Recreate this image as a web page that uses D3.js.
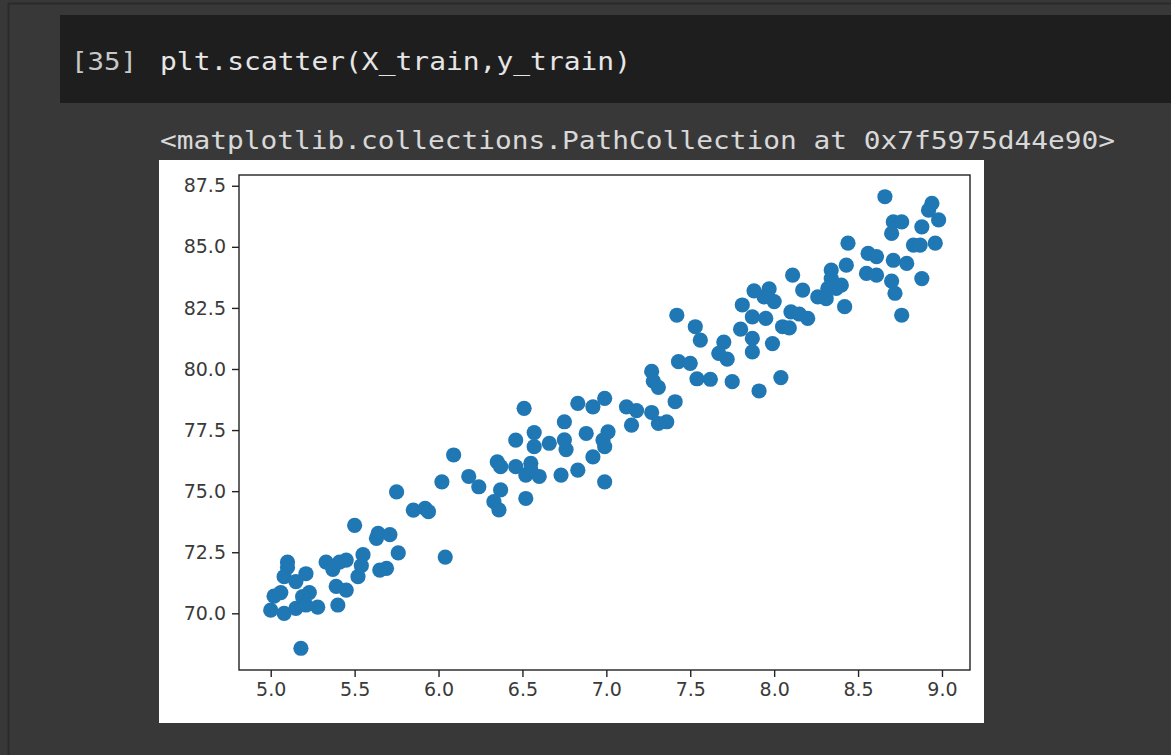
<!DOCTYPE html>
<html>
<head>
<meta charset="utf-8">
<title>plt.scatter(X_train,y_train)</title>
<script src="https://d3js.org/d3.v7.min.js"></script>
<style>
  html, body { margin: 0; padding: 0; background: #383838; }
  #vis { width: 1171px; height: 755px; }
</style>
</head>
<body>
<div id="vis"></div>
<script>

// values: X_train and y_train
let xTrain = [
  5.00, 5.08, 5.15, 5.02, 5.06, 5.10, 5.10, 5.08, 5.15, 5.21,
  5.23, 5.19, 5.28, 5.21, 5.18, 5.33, 5.37, 5.41, 5.45, 5.39,
  5.45, 5.40, 5.55, 5.54, 5.52, 5.50, 5.63, 5.64, 5.71, 5.76,
  5.65, 5.69, 5.75, 5.85, 5.92, 5.94, 6.04, 6.02, 6.09, 6.18,
  6.24, 6.35, 6.37, 6.37, 6.33, 6.36, 6.46, 6.52, 6.52, 6.55,
  6.55, 6.60, 6.73, 6.46, 6.57, 6.57, 6.66, 6.75, 6.76, 6.51,
  6.75, 6.83, 6.92, 6.99, 6.88, 7.01, 6.98, 6.99, 6.92, 6.83,
  6.99, 7.12, 7.18, 7.27, 7.41, 7.15, 7.31, 7.36, 7.27, 7.28,
  7.31, 7.43, 7.50, 7.54, 7.62, 7.75, 7.91, 8.04, 7.42, 7.53,
  7.56, 7.70, 7.67, 7.72, 7.81, 7.80, 7.87, 7.95, 7.87, 7.87,
  7.99, 7.88, 7.97, 7.94, 8.00, 8.11, 8.17, 8.10, 8.15, 8.20,
  8.05, 8.09, 8.34, 8.34, 8.40, 8.37, 8.32, 8.26, 8.31, 8.42,
  8.43, 8.44, 8.56, 8.61, 8.71, 8.79, 8.55, 8.61, 8.70, 8.72,
  8.88, 8.76, 8.66, 8.94, 8.92, 8.98, 8.71, 8.76, 8.70, 8.88,
  8.83, 8.87, 8.96
];
let yTrain = [
  70.13, 70.00, 70.20, 70.70, 70.85, 72.10, 71.88, 71.50, 71.30, 71.62,
  70.85, 70.68, 70.25, 70.34, 68.57, 72.10, 71.80, 72.10, 72.18, 71.10,
  70.95, 70.34, 72.40, 71.95, 71.50, 73.60, 73.07, 73.27, 73.22, 72.47,
  71.77, 71.84, 74.97, 74.22, 74.30, 74.16, 72.30, 75.38, 76.48, 75.60,
  75.18, 76.20, 76.00, 75.05, 74.57, 74.23, 76.00, 74.70, 75.66, 76.14,
  75.87, 75.60, 75.66, 77.09, 77.40, 76.82, 76.96, 77.10, 76.70, 78.39,
  77.84, 78.59, 78.45, 78.80, 77.36, 77.43, 77.09, 76.82, 76.40, 75.86,
  75.38, 78.45, 78.30, 78.22, 78.66, 77.70, 77.77, 77.84, 79.90, 79.50,
  79.25, 80.30, 80.23, 79.60, 79.58, 79.48, 79.10, 79.65, 82.20, 81.73,
  81.18, 81.10, 80.64, 80.40, 82.62, 81.63, 82.13, 82.07, 81.25, 80.70,
  81.04, 83.20, 83.28, 82.95, 82.76, 83.84, 83.23, 82.34, 82.25, 82.07,
  81.73, 81.68, 84.05, 83.70, 83.43, 83.30, 83.30, 82.95, 82.88, 82.55,
  84.25, 85.15, 84.73, 84.60, 84.45, 84.32, 83.91, 83.84, 83.60, 83.10,
  83.70, 82.20, 87.05, 86.78, 86.50, 86.10, 86.02, 86.02, 85.55, 85.82,
  85.07, 85.07, 85.15
];
let xTicks = [5.0, 5.5, 6.0, 6.5, 7.0, 7.5, 8.0, 8.5, 9.0];
let yTicks = [70.0, 72.5, 75.0, 77.5, 80.0, 82.5, 85.0, 87.5];

let cellPrompt = "[35]";
let cellCode = "plt.scatter(X_train,y_train)";
let cellOutput = "<matplotlib.collections.PathCollection at 0x7f5975d44e90>";

let W = 1171, H = 755;

let svg = d3.select('#vis').append("svg")
    .attr("width", W)
    .attr("height", H)
    .attr("viewBox", [0, 0, W, H]);

// notebook background + border
svg.append("rect")
    .attr("x", 0).attr("y", 0).attr("width", W).attr("height", H)
    .attr("fill", "#383838");
svg.append("rect")
    .attr("x", 8.5).attr("y", 3.5).attr("width", W).attr("height", H)
    .attr("fill", "none")
    .attr("stroke", "#2a2a2a")
    .attr("stroke-width", 2);

// code cell
svg.append("rect")
    .attr("x", 60).attr("y", 15).attr("width", W - 60).attr("height", 88)
    .attr("fill", "#1e1e1e");

let mono = "'DejaVu Sans Mono', 'Liberation Mono', monospace";

svg.append("text")
    .attr("x", 71).attr("y", 70)
    .attr("font-family", mono)
    .attr("font-size", 25)
    .attr("fill", "#c8c8c8")
    .attr("textLength", 66)
    .attr("lengthAdjust", "spacingAndGlyphs")
    .text(cellPrompt);

svg.append("text")
    .attr("x", 160).attr("y", 70)
    .attr("font-family", mono)
    .attr("font-size", 25)
    .attr("fill", "#e6e6e6")
    .attr("textLength", 471)
    .attr("lengthAdjust", "spacingAndGlyphs")
    .text(cellCode);

svg.append("text")
    .attr("x", 160).attr("y", 149)
    .attr("font-family", mono)
    .attr("font-size", 25)
    .attr("fill", "#d8d8d8")
    .attr("textLength", 955)
    .attr("lengthAdjust", "spacingAndGlyphs")
    .text(cellOutput);

// figure
svg.append("rect")
    .attr("x", 159).attr("y", 160).attr("width", 825).attr("height", 563)
    .attr("fill", "#ffffff");

let plot = { left: 239, right: 970, top: 175, bottom: 670 };

let x = d3.scaleLinear()
    .domain([4.811, 9.167])
    .range([plot.left, plot.right]);

let y = d3.scaleLinear()
    .domain([67.68, 87.94])
    .range([plot.bottom, plot.top]);

//points
let points = xTrain.map((v, i) => ({x: v, y: yTrain[i]}));

svg.append("g")
    .selectAll("circle")
    .data(points)
    .join("circle")
    .attr("cx", d => x(d.x))
    .attr("cy", d => y(d.y))
    .attr("r", 7.6)
    .attr("fill", "#1f77b4");

// spines
svg.append("rect")
    .attr("x", plot.left).attr("y", plot.top)
    .attr("width", plot.right - plot.left)
    .attr("height", plot.bottom - plot.top)
    .attr("fill", "none")
    .attr("stroke", "#222")
    .attr("stroke-width", 1.4);

let xAxis = svg.append("g")
    .attr("transform", `translate(0,${plot.bottom})`)
    .call(d3.axisBottom(x).tickValues(xTicks).tickFormat(d3.format(".1f")).tickSize(7).tickPadding(6));

let yAxis = svg.append("g")
    .attr("transform", `translate(${plot.left},0)`)
    .call(d3.axisLeft(y).tickValues(yTicks).tickFormat(d3.format(".1f")).tickSize(7).tickPadding(6));

[xAxis, yAxis].forEach(a => {
    a.select(".domain").remove();
    a.selectAll(".tick line").attr("stroke", "#222").attr("stroke-width", 1.4);
    a.selectAll(".tick text")
        .attr("fill", "#3a3a3a")
        .attr("font-family", "'DejaVu Sans', sans-serif")
        .attr("font-size", 19);
});

</script>
</body>
</html>
